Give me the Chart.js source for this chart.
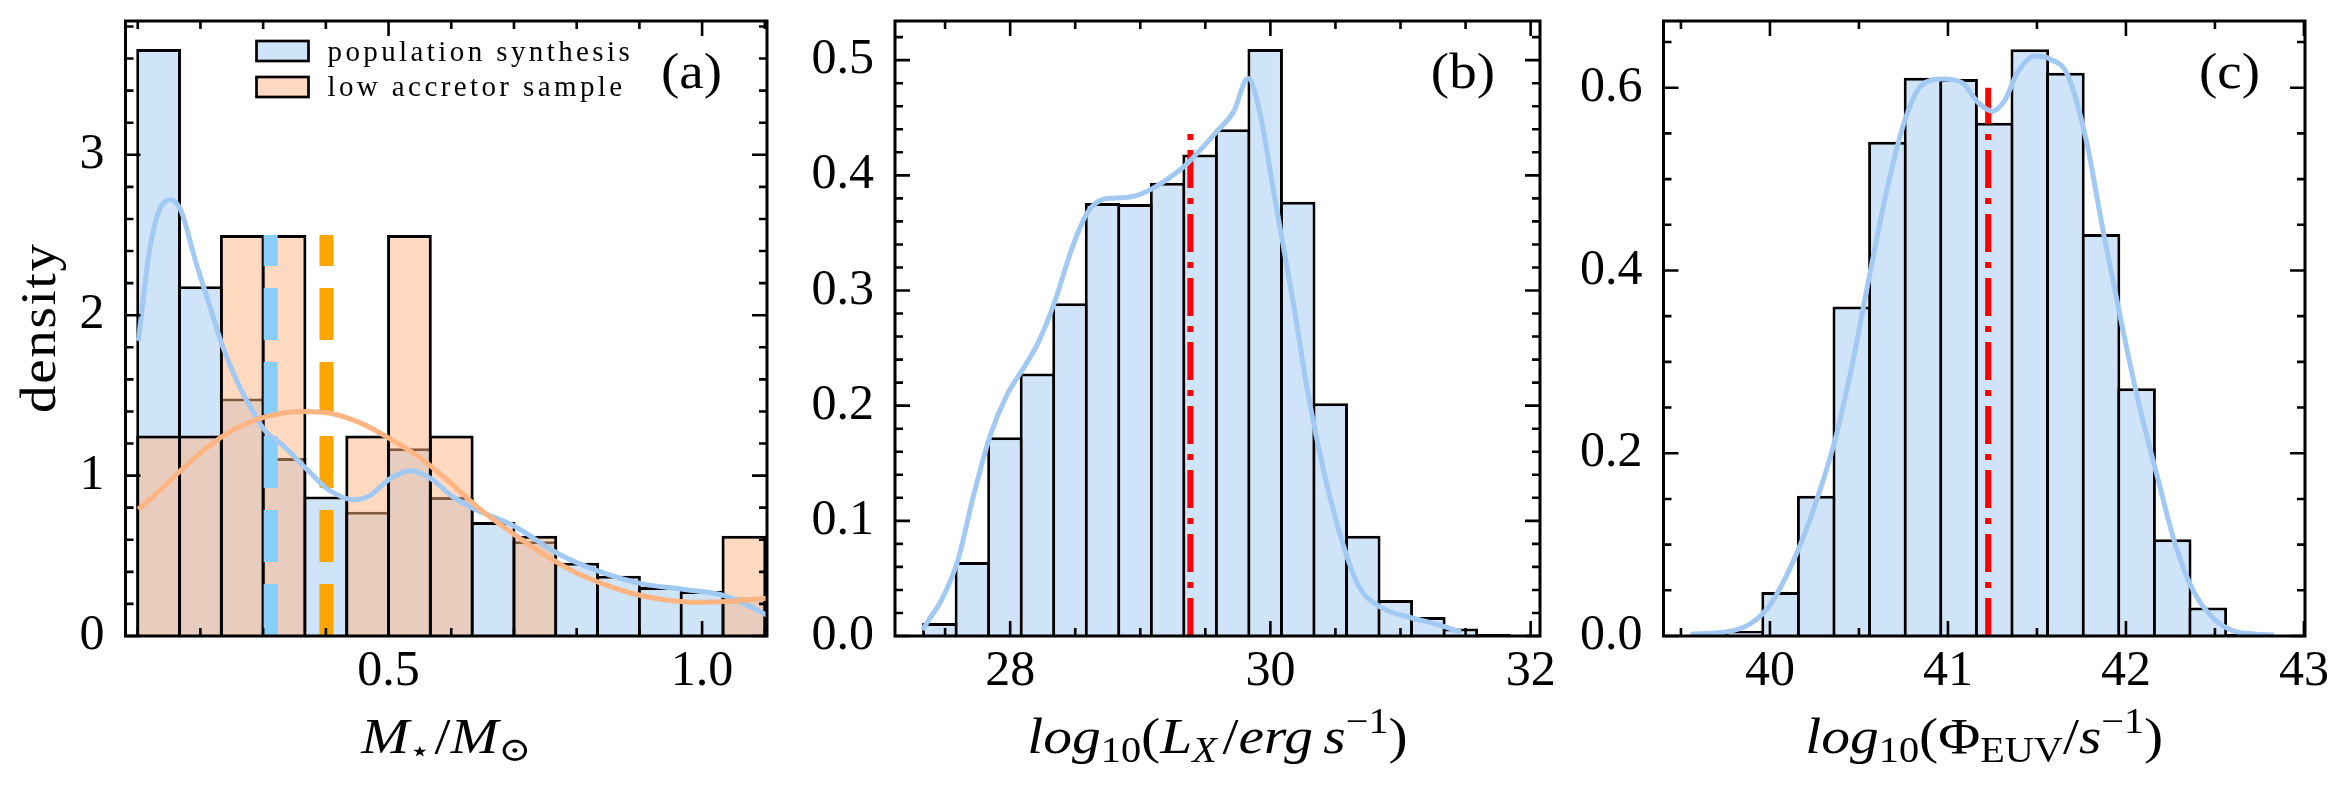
<!DOCTYPE html>
<html>
<head>
<meta charset="utf-8">
<script src="https://cdn.jsdelivr.net/npm/chart.js@4.4.1/dist/chart.umd.min.js"></script>
<style>
  html, body { margin: 0; padding: 0; background: #fff; }
  #wrap { position: relative; width: 2347px; height: 785px; }
  canvas { position: absolute; left: 0; top: 0; }
</style>
</head>
<body>
<div id="wrap">
  <canvas id="panelA" width="2347" height="785"></canvas>
  <canvas id="panelB" width="2347" height="785"></canvas>
  <canvas id="panelC" width="2347" height="785"></canvas>
</div>
<script>
// ---- (a) stellar mass histogram ----
const massBins = [0.1333, 0.2, 0.2667, 0.3333, 0.4, 0.4667, 0.5333, 0.6, 0.6667, 0.7333, 0.8, 0.8667, 0.9333, 1.0, 1.0667];
const massPopSynth = [3.66, 2.18, 1.48, 1.11, 0.87, 0.775, 1.17, 0.866, 0.71, 0.59, 0.456, 0.375, 0.306, 0.28, 0.24];
const massLowAcc = [1.25, 1.25, 2.5, 2.5, 0, 1.25, 2.5, 1.25, 0, 0.625, 0, 0, 0, 0, 0.625];
const massKdePopX = [0.101, 0.119, 0.135, 0.152, 0.168, 0.192, 0.217, 0.235, 0.258, 0.282, 0.303, 0.331, 0.372, 0.405, 0.445, 0.470, 0.502, 0.535, 0.568, 0.600, 0.638, 0.698, 0.772, 0.838, 0.905, 0.972, 1.037, 1.073, 1.103];
const massKdePopY = [1.84, 2.41, 2.66, 2.72, 2.66, 2.34, 2.03, 1.81, 1.59, 1.41, 1.28, 1.19, 1.03, 0.91, 0.85, 0.875, 0.98, 1.03, 0.98, 0.875, 0.79, 0.69, 0.51, 0.40, 0.325, 0.29, 0.25, 0.19, 0.13];
const massKdeAccX = [0.101, 0.144, 0.168, 0.209, 0.250, 0.290, 0.331, 0.364, 0.405, 0.454, 0.502, 0.551, 0.600, 0.649, 0.698, 0.747, 0.796, 0.845, 0.894, 0.943, 0.992, 1.041, 1.103];
const massKdeAccY = [0.79, 0.94, 1.03, 1.17, 1.28, 1.35, 1.39, 1.40, 1.39, 1.33, 1.23, 1.11, 0.95, 0.78, 0.64, 0.51, 0.40, 0.32, 0.26, 0.225, 0.21, 0.215, 0.235];
const massMedians = [0.312, 0.401];   // population synthesis, low accretor sample
const massMedianTop = 2.5;
const massTicks = [0.5, 1.0];
const massDensTicks = [0, 1, 2, 3];

// ---- (b) X-ray luminosity ----
const lxBins = [27.46, 27.71, 27.96, 28.21, 28.46, 28.71, 28.96, 29.21, 29.46, 29.71, 29.96, 30.21, 30.46, 30.71, 30.96, 31.21, 31.46, 31.71];
const lxDensity = [0.0113, 0.0643, 0.1726, 0.228, 0.289, 0.376, 0.375, 0.3935, 0.418, 0.44, 0.5096, 0.377, 0.202, 0.087, 0.0313, 0.0165, 0.0065, 0.0017];
const lxKdeX = [27.328, 27.369, 27.469, 27.596, 27.723, 27.846, 27.973, 28.115, 28.223, 28.346, 28.473, 28.596, 28.723, 28.846, 28.973, 29.096, 29.223, 29.346, 29.473, 29.596, 29.723, 29.808, 29.83, 29.923, 30.023, 30.173, 30.292, 30.427, 30.562, 30.677, 30.831, 31.062, 31.254, 31.465];
const lxKdeY = [0.0052, 0.013, 0.0304, 0.065, 0.124, 0.1739, 0.2087, 0.2348, 0.2565, 0.2913, 0.336, 0.368, 0.3795, 0.3805, 0.3825, 0.3887, 0.3978, 0.4087, 0.4235, 0.439, 0.4565, 0.4826, 0.484, 0.4522, 0.387, 0.2913, 0.2087, 0.1348, 0.0783, 0.0435, 0.0261, 0.0165, 0.0109, 0.0035];
const lxMedian = 29.385;
const lxMedianTop = 0.44;
const lxTicks = [28, 30, 32];
const lxDensTicks = [0, 0.1, 0.2, 0.3, 0.4, 0.5];

// ---- (c) EUV photon rate ----
const euvBins = [39.66, 39.86, 40.06, 40.26, 40.46, 40.66, 40.86, 41.06, 41.26, 41.46, 41.66, 41.86, 42.06, 42.26, 42.46, 42.66, 42.86];
const euvDensity = [0.002, 0.0055, 0.0482, 0.1534, 0.3606, 0.5408, 0.611, 0.6094, 0.5617, 0.6422, 0.6165, 0.44, 0.2712, 0.1058, 0.0312, 0.0022, 0.001];
const euvKdeX = [39.554, 39.752, 39.893, 40.006, 40.119, 40.232, 40.365, 40.458, 40.565, 40.656, 40.763, 40.853, 40.966, 41.079, 41.17, 41.249, 41.32, 41.39, 41.489, 41.574, 41.673, 41.777, 41.871, 41.978, 42.068, 42.175, 42.28, 42.379, 42.492, 42.605, 42.718, 42.831];
const euvKdeY = [0.0022, 0.0044, 0.0137, 0.0356, 0.0767, 0.1315, 0.2137, 0.2932, 0.4, 0.4877, 0.5672, 0.6028, 0.6094, 0.6055, 0.5836, 0.5743, 0.5864, 0.6165, 0.6346, 0.6313, 0.6138, 0.5425, 0.4439, 0.3398, 0.2576, 0.1754, 0.0986, 0.0493, 0.0192, 0.0055, 0.0022, 0.001];
const euvMedian = 41.226;
const euvMedianTop = 0.6;
const euvTicks = [40, 41, 42, 43];
const euvDensTicks = [0, 0.2, 0.4, 0.6];

const FONT = '"Liberation Serif", "DejaVu Serif", serif';
const EDGE = 3;
const TOP = 21, BOTTOM = 636, W = 2347, H = 785;
const Y_AXIS_W = 120, X_AXIS_H = 100;
const TICK_FONT = 50, LABEL_FONT = 50, LABEL_STRETCH = 1.15;

const BLUE_FILL = '#d0e4f9';
const ORANGE_FILL = 'rgba(255,180,130,0.5)';
const BLUE_KDE = '#a1c9f4';
const ORANGE_KDE = '#ffb482';

Chart.defaults.font.family = FONT;
Chart.defaults.color = '#000';

function minorSteps(from, to, step, majors) {
  const out = [];
  for (let v = from; v <= to + 1e-9; v += step) {
    const r = Math.round(v * 1000) / 1000;
    if (!majors.some(m => Math.abs(m - r) < 1e-6)) out.push(r);
  }
  return out;
}

const runFont = r => `${r.it ? 'italic ' : ''}${r.sz || LABEL_FONT}px ${FONT}`;
function drawRuns(ctx, runs, cx, base, sx) {
  let w = 0;
  runs.forEach(r => { ctx.font = runFont(r); r.w = ctx.measureText(r.t).width + (r.gap || 0); w += r.w; });
  ctx.save();
  ctx.translate(cx, base);
  ctx.scale(sx, 1);
  let x = -w / 2;
  ctx.textAlign = 'left';
  ctx.textBaseline = 'alphabetic';
  runs.forEach(r => { ctx.font = runFont(r); ctx.fillText(r.t, x, r.dy || 0); x += r.w; });
  ctx.restore();
}
function spacedText(ctx, s, x, y, sp) {
  for (const ch of s) {
    ctx.fillText(ch, x, y);
    x += ctx.measureText(ch).width + sp;
  }
}
function spacedWidth(ctx, s, sp) {
  let w = 0;
  for (const ch of s) w += ctx.measureText(ch).width + sp;
  return w - sp;
}

// frame, inward ticks, labels, legend
const deco = {
  id: 'deco',
  afterDraw(chart, args, o) {
    const ctx = chart.ctx, a = chart.chartArea;
    const xs = chart.scales.x, ys = chart.scales.y;
    ctx.save();
    ctx.strokeStyle = '#000';
    ctx.fillStyle = '#000';
    ctx.lineCap = 'butt';
    ctx.lineWidth = 2.6;
    const mark = (scale, vals, len, horiz) => vals.forEach(v => {
      const p = scale.getPixelForValue(v);
      ctx.beginPath();
      if (horiz) {
        ctx.moveTo(p, a.bottom); ctx.lineTo(p, a.bottom - len);
        ctx.moveTo(p, a.top); ctx.lineTo(p, a.top + len);
      } else {
        ctx.moveTo(a.left, p); ctx.lineTo(a.left + len, p);
        ctx.moveTo(a.right, p); ctx.lineTo(a.right - len, p);
      }
      ctx.stroke();
    });
    mark(xs, o.xMinor, 8, true);
    mark(xs, o.xMajor, 15, true);
    mark(ys, o.yMinor, 8, false);
    mark(ys, o.yMajor, 15, false);
    ctx.lineWidth = 3;
    ctx.strokeRect(a.left, a.top, a.right - a.left, a.bottom - a.top);

    // panel letter
    ctx.save();
    ctx.translate(a.right - 45, a.top + 67);
    ctx.scale(1.1, 1);
    ctx.font = `50px ${FONT}`;
    ctx.textAlign = 'right';
    ctx.textBaseline = 'alphabetic';
    ctx.fillText(o.letter, 0, 0);
    ctx.restore();

    drawRuns(ctx, o.xLabel, (a.left + a.right) / 2, 753, LABEL_STRETCH);

    if (o.yLabel) {
      ctx.save();
      ctx.translate(55, (a.top + a.bottom) / 2);
      ctx.rotate(-Math.PI / 2);
      ctx.scale(1.1, 1);
      ctx.font = `${LABEL_FONT}px ${FONT}`;
      ctx.textAlign = 'left';
      const w = spacedWidth(ctx, o.yLabel, 1.5);
      spacedText(ctx, o.yLabel, -w / 2, 0, 1.5);
      ctx.restore();
    }

    if (o.legend) {
      o.legend.forEach((e, i) => {
        const bx = a.left + 131, by = a.top + 20 + i * 36;
        ctx.fillStyle = e.fill;
        ctx.fillRect(bx, by, 52, 20);
        ctx.lineWidth = 2.7;
        ctx.strokeRect(bx, by, 52, 20);
        ctx.fillStyle = '#000';
        ctx.font = `29px ${FONT}`;
        ctx.textAlign = 'left';
        spacedText(ctx, e.label, a.left + 202, a.top + 40 + i * 35, 3.4);
      });
    }
    ctx.restore();
  }
};

function panel(id, p) {
  const [L, R] = p.box;
  const binPx = p.binW / (p.xr[1] - p.xr[0]) * (R - L);
  const bp = 1 + EDGE / binPx;
  const datasets = [];
  p.hists.forEach((h, i) => datasets.push({
    type: 'bar',
    data: p.bins.map((x, k) => ({ x, y: h.v[k] })),
    backgroundColor: h.fill,
    borderColor: '#000',
    borderWidth: EDGE,
    barPercentage: bp,
    categoryPercentage: 1,
    grouped: false,
    inflateAmount: 0,
    order: 20 - i
  }));
  p.medians.forEach(m => datasets.push({
    type: 'line',
    data: [{ x: m.x, y: 0 }, { x: m.x, y: m.top }],
    borderColor: m.color,
    borderWidth: m.width,
    borderDash: m.dash,
    borderCapStyle: 'butt',
    pointRadius: 0,
    order: 10
  }));
  p.kdes.forEach((k, i) => datasets.push({
    type: 'line',
    data: k.x.map((x, j) => ({ x, y: k.y[j] })),
    borderColor: k.color,
    borderWidth: 5,
    cubicInterpolationMode: 'monotone',
    pointRadius: 0,
    order: 5 - i
  }));

  const axisBase = {
    type: 'linear',
    offset: false,
    grid: { display: false, drawTicks: false },
    border: { display: false }
  };

  new Chart(document.getElementById(id), {
    type: 'bar',
    data: { datasets },
    options: {
      responsive: false,
      animation: false,
      events: [],
      layout: { padding: { left: L - Y_AXIS_W, right: W - R, top: TOP, bottom: H - BOTTOM - X_AXIS_H } },
      plugins: {
        legend: { display: false },
        tooltip: { enabled: false },
        deco: p.deco
      },
      scales: {
        x: Object.assign({}, axisBase, {
          min: p.xr[0], max: p.xr[1],
          afterBuildTicks: s => { s.ticks = p.xTicks.map(v => ({ value: v })); },
          afterFit: s => { s.height = X_AXIS_H; s.paddingLeft = 0; s.paddingRight = 0; s.paddingTop = 0; s.paddingBottom = 0; },
          ticks: { padding: 6, autoSkip: false, maxRotation: 0, font: { size: TICK_FONT }, callback: v => p.xFmt(v) }
        }),
        y: Object.assign({}, axisBase, {
          min: p.yr[0], max: p.yr[1],
          afterBuildTicks: s => { s.ticks = p.yTicks.map(v => ({ value: v })); },
          afterFit: s => { s.width = Y_AXIS_W; s.paddingLeft = 0; s.paddingRight = 0; s.paddingTop = 0; s.paddingBottom = 0; },
          ticks: { padding: 21, autoSkip: false, font: { size: TICK_FONT }, callback: v => p.yFmt(v) }
        })
      }
    },
    plugins: [deco]
  });
}

const int = v => String(Math.round(v));
const one = v => v.toFixed(1);
const redLine = { color: '#ff0000', width: 6, dash: [38, 10, 6, 10] };

panel('panelA', {
  box: [125.5, 767], xr: [0.0805, 1.1035], yr: [0, 3.834], binW: 0.0667,
  bins: massBins,
  hists: [{ v: massPopSynth, fill: BLUE_FILL }, { v: massLowAcc, fill: ORANGE_FILL }],
  medians: [
    { x: massMedians[0], top: massMedianTop, color: '#87cefa', width: 14, dash: [52, 22] },
    { x: massMedians[1], top: massMedianTop, color: '#ffa500', width: 14, dash: [52, 22] }
  ],
  kdes: [{ x: massKdePopX, y: massKdePopY, color: BLUE_KDE }, { x: massKdeAccX, y: massKdeAccY, color: ORANGE_KDE }],
  xTicks: massTicks, yTicks: massDensTicks, xFmt: one, yFmt: int,
  deco: {
    xMajor: massTicks, xMinor: minorSteps(0.1, 1.1, 0.1, massTicks),
    yMajor: massDensTicks, yMinor: minorSteps(0.2, 3.8, 0.2, massDensTicks),
    letter: '(a)',
    xLabel: [{ t: 'M', it: 1 }, { t: '⋆', sz: 30, dy: 8, gap: 3 }, { t: '/' }, { t: 'M', it: 1 }, { t: '⊙', sz: 34, dy: 8 }],
    yLabel: 'density',
    legend: [
      { label: 'population synthesis', fill: BLUE_FILL },
      { label: 'low accretor sample', fill: '#ffd9c1' }
    ]
  }
});

panel('panelB', {
  box: [895, 1540], xr: [27.115, 32.072], yr: [0, 0.534], binW: 0.25,
  bins: lxBins,
  hists: [{ v: lxDensity, fill: BLUE_FILL }],
  medians: [Object.assign({ x: lxMedian, top: lxMedianTop }, redLine)],
  kdes: [{ x: lxKdeX, y: lxKdeY, color: BLUE_KDE }],
  xTicks: lxTicks, yTicks: lxDensTicks, xFmt: int, yFmt: one,
  deco: {
    xMajor: lxTicks, xMinor: minorSteps(27.5, 31.5, 0.5, lxTicks),
    yMajor: lxDensTicks, yMinor: minorSteps(0.02, 0.52, 0.02, lxDensTicks),
    letter: '(b)',
    xLabel: [{ t: 'log', it: 1 }, { t: '10', sz: 35, dy: 9 }, { t: '(' }, { t: 'L', it: 1 }, { t: 'X', it: 1, sz: 35, dy: 9, gap: 5 },
             { t: '/' }, { t: 'erg', it: 1, gap: 9 }, { t: 's', it: 1 }, { t: '−1', sz: 35, dy: -20 }, { t: ')' }]
  }
});

panel('panelC', {
  box: [1663.5, 2305], xr: [39.402, 43.006], yr: [0, 0.673], binW: 0.2,
  bins: euvBins,
  hists: [{ v: euvDensity, fill: BLUE_FILL }],
  medians: [Object.assign({ x: euvMedian, top: euvMedianTop }, redLine)],
  kdes: [{ x: euvKdeX, y: euvKdeY, color: BLUE_KDE }],
  xTicks: euvTicks, yTicks: euvDensTicks, xFmt: int, yFmt: one,
  deco: {
    xMajor: euvTicks, xMinor: minorSteps(39.5, 42.5, 0.5, euvTicks),
    yMajor: euvDensTicks, yMinor: minorSteps(0.05, 0.65, 0.05, euvDensTicks),
    letter: '(c)',
    xLabel: [{ t: 'log', it: 1 }, { t: '10', sz: 35, dy: 9 }, { t: '(' }, { t: 'Φ' }, { t: 'EUV', sz: 35, dy: 9 },
             { t: '/' }, { t: 's', it: 1 }, { t: '−1', sz: 35, dy: -20 }, { t: ')' }]
  }
});
</script>
</body>
</html>
